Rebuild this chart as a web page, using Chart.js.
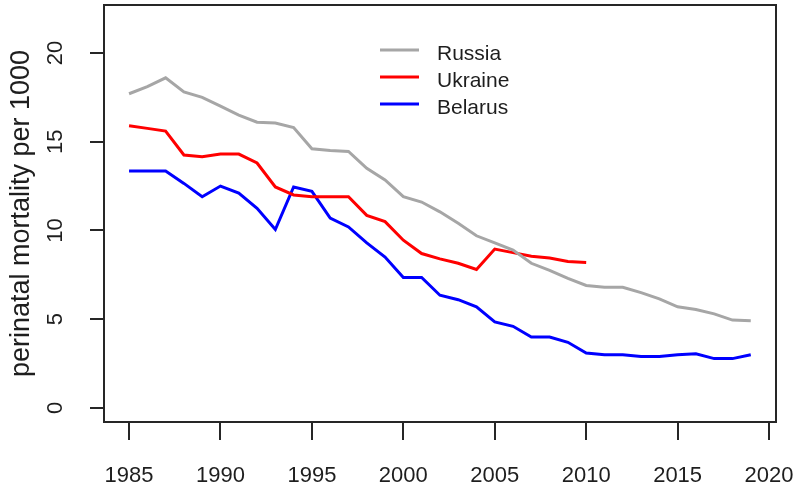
<!DOCTYPE html>
<html>
<head>
  <title>Perinatal mortality</title>
  <script src="https://cdn.jsdelivr.net/npm/chart.js"></script>
  <style>
    body {
      margin: 0;
      background: #fff;
    }
    #wrap {
      width: 800px;
      height: 487px;
      position: relative;
    }
  </style>
</head>
<body>
  <div id="wrap">
    <canvas id="chart"></canvas>
  </div>

  <script>
    // values
    const years = [1985, 1986, 1987, 1988, 1989, 1990, 1991, 1992, 1993, 1994,
                   1995, 1996, 1997, 1998, 1999, 2000, 2001, 2002, 2003, 2004,
                   2005, 2006, 2007, 2008, 2009, 2010, 2011, 2012, 2013, 2014,
                   2015, 2016, 2017, 2018, 2019];
    const russia = [17.7, 18.1, 18.6, 17.8, 17.5, 17.0, 16.5, 16.1, 16.05, 15.8,
                    14.6, 14.5, 14.45, 13.5, 12.85, 11.9, 11.6, 11.05, 10.4, 9.7,
                    9.3, 8.9, 8.15, 7.75, 7.3, 6.9, 6.8, 6.8, 6.5, 6.15,
                    5.7, 5.55, 5.3, 4.95, 4.92];
    const ukraine = [15.9, 15.75, 15.6, 14.25, 14.15, 14.3, 14.3, 13.8, 12.45, 12.0,
                     11.9, 11.9, 11.9, 10.85, 10.5, 9.45, 8.7, 8.4, 8.15, 7.8,
                     8.95, 8.75, 8.55, 8.45, 8.25, 8.2];
    const belarus = [13.35, 13.35, 13.35, 12.65, 11.9, 12.5, 12.1, 11.25, 10.05, 12.45,
                     12.2, 10.7, 10.2, 9.3, 8.5, 7.35, 7.35, 6.35, 6.1, 5.7,
                     4.85, 4.6, 4.0, 4.0, 3.7, 3.1, 3.0, 3.0, 2.9, 2.9,
                     3.0, 3.05, 2.78, 2.78, 3.0];
    const countries = ['Russia', 'Ukraine', 'Belarus'];
    const xTicks = [1985, 1990, 1995, 2000, 2005, 2010, 2015, 2020];
    const yTicks = [0, 5, 10, 15, 20];

    const FONT = '"Liberation Sans", Arial, sans-serif';
    const INK = '#1e1e1e';

    const toPoints = vals => vals.map((v, i) => ({ x: years[i], y: v }));

    // box around the plot area, rotated y tick labels, and the legend
    const extras = {
      id: 'extras',
      afterDraw(chart) {
        const ctx = chart.ctx;
        const a = chart.chartArea;
        ctx.save();
        ctx.strokeStyle = '#262626';
        ctx.lineWidth = 2;
        ctx.strokeRect(a.left, a.top, a.right - a.left, a.bottom - a.top);

        // y tick labels, written along the axis like R does
        const ys = chart.scales.y;
        ctx.fillStyle = INK;
        ctx.font = '22px ' + FONT;
        ctx.textAlign = 'center';
        ctx.textBaseline = 'middle';
        ys.ticks.forEach(t => {
          ctx.save();
          ctx.translate(56, ys.getPixelForValue(t.value));
          ctx.rotate(-Math.PI / 2);
          ctx.fillText(String(t.value), 0, 0);
          ctx.restore();
        });

        // legend
        ctx.font = '21px ' + FONT;
        ctx.textAlign = 'left';
        chart.data.datasets.forEach((ds, i) => {
          const y = 50 + i * 27;
          ctx.strokeStyle = ds.borderColor;
          ctx.lineWidth = 3;
          ctx.beginPath();
          ctx.moveTo(380, y);
          ctx.lineTo(419, y);
          ctx.stroke();
          ctx.fillStyle = INK;
          ctx.fillText(ds.label, 437, y + 4);
        });
        ctx.restore();
      }
    };

    const ctx = document.getElementById('chart').getContext('2d');
    const chart = new Chart(ctx, {
      type: 'line',
      data: {
        datasets: [
          { label: countries[0], data: toPoints(russia), borderColor: '#a6a6a6' },
          { label: countries[1], data: toPoints(ukraine), borderColor: '#ff0000' },
          { label: countries[2], data: toPoints(belarus), borderColor: '#0000ff' }
        ]
      },
      options: {
        animation: false,
        responsive: true,
        maintainAspectRatio: false,
        layout: { padding: { top: 5, right: 24, left: 0, bottom: 0 } },
        elements: {
          line: { borderWidth: 3, tension: 0, fill: false },
          point: { radius: 0 }
        },
        plugins: {
          legend: { display: false },
          tooltip: { enabled: false }
        },
        scales: {
          x: {
            type: 'linear',
            min: 1983.63,
            max: 2020.38,
            afterBuildTicks: s => { s.ticks = xTicks.map(v => ({ value: v })); },
            afterFit: s => { s.height = 65; s.paddingLeft = 0; s.paddingRight = 0; },
            border: { display: false },
            grid: {
              drawOnChartArea: false,
              drawTicks: true,
              tickLength: 18,
              color: '#262626',
              lineWidth: 2
            },
            ticks: {
              color: INK,
              font: { family: FONT, size: 22 },
              padding: 23,
              maxRotation: 0,
              callback: v => String(v)
            }
          },
          y: {
            type: 'linear',
            min: -0.79,
            max: 22.7,
            afterBuildTicks: s => { s.ticks = yTicks.map(v => ({ value: v })); },
            afterFit: s => { s.width = 104; s.paddingTop = 0; s.paddingBottom = 0; },
            border: { display: false },
            grid: {
              drawOnChartArea: false,
              drawTicks: true,
              tickLength: 14,
              color: '#262626',
              lineWidth: 2
            },
            ticks: {
              color: 'rgba(0,0,0,0)',
              font: { family: FONT, size: 21 }
            },
            title: {
              display: true,
              text: 'perinatal mortality per 1000',
              color: INK,
              font: { family: FONT, size: 27 },
              padding: { top: 5, bottom: 0 }
            }
          }
        }
      },
      plugins: [extras]
    });
  </script>
</body>
</html>
